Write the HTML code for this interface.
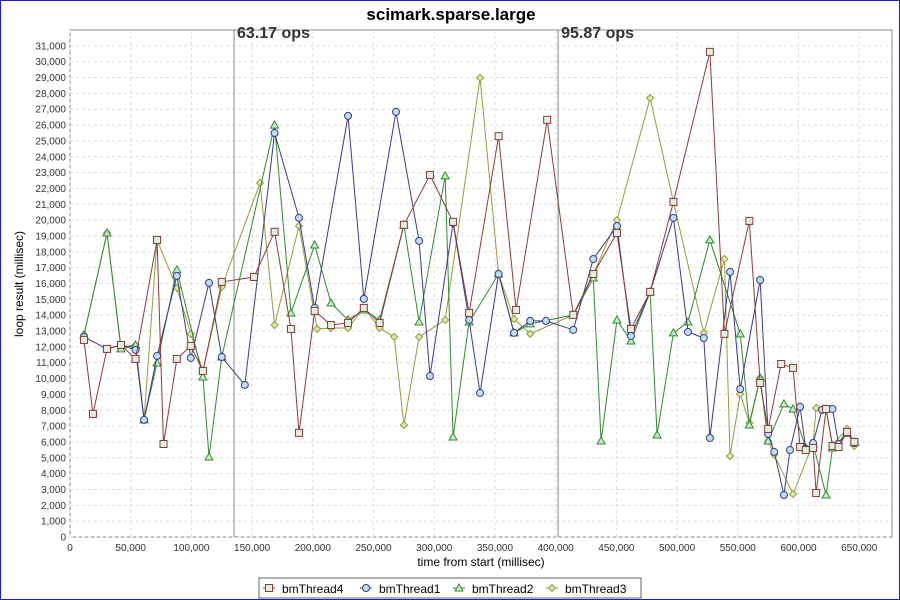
<!DOCTYPE html>
<html><head><meta charset="utf-8"><style>
body{margin:0;background:#fff;font-family:"Liberation Sans","DejaVu Sans",sans-serif;}
#wrap{position:relative;width:900px;height:600px;border:1px solid #2020c0;box-sizing:border-box;overflow:hidden;}
svg text{font-family:"Liberation Sans","DejaVu Sans",sans-serif;}
</style></head><body>
<div id="wrap">
<svg id="chart" width="900" height="600"></svg>
</div>
<script>
// data: time (thousand ms) and loop result (thousand ms)
const t4=[11.5,18.9,30.5,42,54,71.7,77,88,99.5,109.5,125,151.5,168.5,182,188.6,201.5,215,229,242,255,275,296.5,315.5,328.7,353,367.4,393,414.5,431,450.5,462,477.8,497,527,539,559.5,568.4,575,585.7,595.5,601.3,606,612,614.5,622.7,628,633,640,646];
const v4=[12.44,7.77,11.87,12.12,11.24,18.75,5.87,11.24,12.06,10.48,16.1,16.41,19.26,13.13,6.57,14.27,13.38,13.51,14.46,13.51,19.7,22.85,19.89,14.14,25.3,14.33,26.33,14.02,16.6,19.19,13.13,15.47,21.15,30.62,12.82,19.95,9.72,6.82,10.92,10.67,5.68,5.49,5.62,2.78,8.08,5.74,5.68,6.63,6.0];
const t1=[11.5,30.5,42,54,61,71.7,88,99.5,114.5,125,144,168.5,188.6,201.5,229,242,268.5,287.5,296.5,315.5,328.7,337.7,353,365.7,379,392,414.5,431,450.5,462,477.8,497,509,522,527,543.6,552,568.4,575,580,588,593,601.3,606,612,619.4,628,633,640,646];
const v1=[12.63,11.87,12.12,11.81,7.39,11.43,16.48,11.3,16.04,11.36,9.6,25.5,20.14,14.46,26.58,15.03,26.83,18.69,10.16,19.82,13.7,9.09,16.6,12.88,13.64,13.64,13.07,17.55,19.63,12.69,15.47,20.14,12.94,12.56,6.25,16.73,9.34,16.22,6.5,5.37,2.65,5.49,8.21,5.56,5.93,8.02,8.08,5.87,6.57,5.93];
const t2=[11.5,30.5,42,54,61,71.7,88,109.5,114.5,125,168.5,182,201.5,215,229,242,255,275,287.5,309,315.5,328.7,353,365.7,379,414.5,431,437.4,450.5,462,477.8,483.5,497,509,527,552,559.5,568.4,575,588,595.5,606,612,622.7,628,640,646];
const v2=[12.75,19.19,11.87,12.12,7.39,10.98,16.86,10.1,5.05,11.36,26.0,14.14,18.43,14.77,13.7,14.33,13.7,19.7,13.57,22.79,6.31,13.57,16.6,12.88,13.45,14.02,16.35,6.06,13.7,12.37,15.47,6.44,12.88,13.57,18.75,12.82,7.07,10.04,6.06,8.4,8.08,5.62,5.87,2.65,5.62,6.57,6.0];
const t3=[11.5,30.5,42,54,61,71.7,88,99.5,109.5,125,156.5,168.5,188.6,203.5,215,229,242,255,267,275,287.5,309,337.7,353,365.7,379,414.5,431,450.5,477.8,497,522,539,543.6,552,559.5,568.4,575,580,595.5,612,614.5,622.7,628,640,646];
const v3=[12.75,19.19,12.0,12.12,7.39,18.75,15.72,12.82,10.48,15.78,22.35,13.38,19.63,13.13,13.19,13.19,14.46,13.19,12.63,7.07,12.63,13.7,28.98,16.6,13.76,12.82,14.02,16.6,20.01,27.71,21.15,12.88,17.55,5.11,9.03,7.2,10.04,6.06,5.18,2.71,5.93,8.14,8.08,5.81,6.82,5.74];
const yTicks=[0,1,2,3,4,5,6,7,8,9,10,11,12,13,14,15,16,17,18,19,20,21,22,23,24,25,26,27,28,29,30,31];
const xTicks=[0,50,100,150,200,250,300,350,400,450,500,550,600,650];
const markerT=[135.1,402];
const markerLabels=["63.17 ops","95.87 ops"];
const seriesNames=["bmThread4","bmThread1","bmThread2","bmThread3"];

const L=69,R=891,T=29,B=536,XMAX=677,YMAX=32;
const sx=t=>L+t/XMAX*(R-L);
const sy=v=>B-v/YMAX*(B-T);
const NS="http://www.w3.org/2000/svg";
const svg=document.getElementById('chart');
function mk(tag,attrs,parent){const e=document.createElementNS(NS,tag);for(const k in attrs)e.setAttribute(k,attrs[k]);(parent||svg).appendChild(e);return e;}
const fmt=n=>n.toLocaleString('en-US');

let e=mk('text',{x:450,y:19,'text-anchor':'middle','font-size':17,'font-weight':'bold',fill:'#000'});e.textContent='scimark.sparse.large';


e=mk('rect',{x:L,y:T,width:R-L,height:B-T,fill:'#fff',stroke:'#888'});


yTicks.forEach(v=>{
  const y=sy(v);
  const g=mk('line',{x1:L,x2:R,y1:y,y2:y,stroke:'#ddd','stroke-dasharray':'3,3'});
  
  
  const t=mk('text',{x:L-4,y:y+3.5,'text-anchor':'end','font-size':10,fill:'#333'});t.textContent=fmt(v*1000);
  
  
});
xTicks.forEach(v=>{
  const x=sx(v);
  const g=mk('line',{x1:x,x2:x,y1:T,y2:B,stroke:'#ddd','stroke-dasharray':'3,3'});
  
  
  const t=mk('text',{x:x,y:B+14,'text-anchor':'middle','font-size':10,fill:'#333'});t.textContent=fmt(v*1000);
  
  
});
e=mk('text',{x:480,y:565,'text-anchor':'middle','font-size':12,fill:'#000'});e.textContent='time from start (millisec)';


e=mk('text',{x:22,y:283,'text-anchor':'middle','font-size':12,fill:'#000',transform:'rotate(-90 22 283)'});e.textContent='loop result (millisec)';


markerT.forEach((m,i)=>{
  const x=sx(m);
  const l=mk('line',{x1:x,x2:x,y1:T,y2:B,stroke:'#888'});
  
  
  const t=mk('text',{x:x+3,y:T+8,'font-size':16,'font-weight':'bold',fill:'#333'});t.textContent=markerLabels[i];
  
  
});
const colors=['#8b3a3a','#3a3a8b','#2f8a2f','#9a9a3a'];
function marker(kind,x,y,i,g){
  let m;
  if(kind===0)m=mk('rect',{x:x-3.5,y:y-3.5,width:7,height:7,fill:'#e0f0e0',stroke:colors[i]},g);
  else if(kind===1)m=mk('circle',{cx:x,cy:y,r:3.5,fill:'#bfe0f0',stroke:colors[i]},g);
  else if(kind===2)m=mk('polygon',{points:`${x},${y-4} ${x+4},${y+3} ${x-4},${y+3}`,fill:'#c8ecc8',stroke:colors[i]},g);
  else m=mk('polygon',{points:`${x},${y-3.5} ${x+3.5},${y} ${x},${y+3.5} ${x-3.5},${y}`,fill:'#d8eca8',stroke:colors[i]},g);
  return m;
}
const series=[[t4,v4],[t1,v1],[t2,v2],[t3,v3]];
[3,2,1,0].forEach(i=>{
  const [ts,vs]=series[i];
  const g=mk('g',{});
  
  
  const pl=mk('polyline',{points:ts.map((t,j)=>sx(t)+','+sy(vs[j])).join(' '),fill:'none',stroke:colors[i],'stroke-width':1},g);
  
  
  ts.forEach((t,j)=>{
    const m=marker(i,sx(t),sy(vs[j]),i,g);
    
    
  });
});
const lg=mk('g',{});


mk('rect',{x:258,y:577,width:382,height:20,fill:'#fff',stroke:'#666'},lg);
const lx=[268,365,458,551];
seriesNames.forEach((n,i)=>{
  const it=mk('g',{},lg);
  
  
  mk('line',{x1:lx[i]-6,x2:lx[i]+6,y1:587,y2:587,stroke:colors[i]},it);
  marker(i,lx[i],587,i,it);
  const t=mk('text',{x:lx[i]+13,y:592,'font-size':12,fill:'#000'},it);t.textContent=n;
});
</script>
</body></html>
